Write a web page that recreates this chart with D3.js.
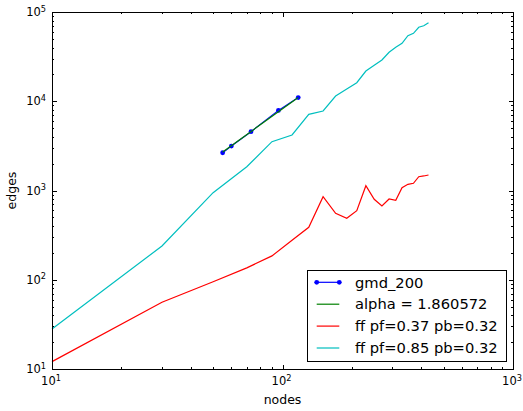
<!DOCTYPE html>
<html>
<head>
<meta charset="utf-8">
<script src="https://cdn.jsdelivr.net/npm/d3@7"></script>
<style>
  body { margin: 0; background: #fff; }
  text { font-family: "DejaVu Sans", sans-serif; fill: #000; }
</style>
</head>
<body>
<svg id="chart" width="523" height="411"></svg>
<script>
// gmd_200 measurements
const gmdNodes = [55, 60, 73, 96, 117];
const gmdEdges = [2650, 3150, 4560, 7900, 11000];
// power-law exponent of the fitted line
const fitAlpha = 1.860572;

// forest-fire runs, sampled at the same node counts
const ffNodes = [10, 30, 50, 70, 90, 110, 130, 150, 170, 190, 210, 230, 250, 270, 290, 310, 330, 350, 370, 390, 410, 430];
const ffLowEdges = [12.1, 56, 95, 136, 185, 277, 387, 853, 556, 489, 594, 1132, 797, 670, 804, 777, 1075, 1173, 1205, 1428, 1455, 1492];
const ffHighEdges = [28, 239, 945, 1848, 3523, 4188, 7140, 7780, 11450, 13700, 16140, 21800, 25350, 28980, 35360, 40220, 44580, 54260, 57700, 67420, 70220, 75860];

const xMajorTicks = [10, 100, 1000];
const yMajorTicks = [10, 100, 1000, 10000, 100000];
const legendLabels = ["gmd_200", "alpha = 1.860572", "ff pf=0.37 pb=0.32", "ff pf=0.85 pb=0.32"];
const seriesColors = ["#0000ff", "#008000", "#ff0000", "#00bfbf"];

const svg = d3.select("#chart");
const plot = { left: 52, right: 513, top: 12, bottom: 369 };

const x = d3.scaleLog().domain([10, 1000]).range([plot.left, plot.right]);
const y = d3.scaleLog().domain([10, 100000]).range([plot.bottom, plot.top]);

function minorTicks(majors) {
  const out = [];
  for (let i = 0; i < majors.length - 1; i++)
    for (let k = 2; k <= 9; k++) out.push(majors[i] * k);
  return out;
}

// fit line: intercept from the gmd data with the stated exponent
const logIntercept = d3.mean(gmdNodes.map((n, i) => Math.log10(gmdEdges[i]) - fitAlpha * Math.log10(n)));
const fitNodes = [d3.min(gmdNodes), d3.max(gmdNodes)];
const fitEdges = fitNodes.map(n => Math.pow(10, logIntercept) * Math.pow(n, fitAlpha));

const line = d3.line().x(d => x(d[0])).y(d => y(d[1]));
const zip = (a, b) => a.map((v, i) => [v, b[i]]);

const marks = svg.append("g");
marks.append("path").datum(zip(ffNodes, ffLowEdges)).attr("d", line)
  .attr("fill", "none").attr("stroke", seriesColors[2]).attr("stroke-width", 1.2);
marks.append("path").datum(zip(ffNodes, ffHighEdges)).attr("d", line)
  .attr("fill", "none").attr("stroke", seriesColors[3]).attr("stroke-width", 1.2);
marks.append("path").datum(zip(gmdNodes, gmdEdges)).attr("d", line)
  .attr("fill", "none").attr("stroke", seriesColors[0]).attr("stroke-width", 1.2);
marks.selectAll("circle.gmd").data(zip(gmdNodes, gmdEdges)).join("circle")
  .attr("class", "gmd").attr("cx", d => x(d[0])).attr("cy", d => y(d[1])).attr("r", 2.4)
  .attr("fill", seriesColors[0]);
marks.append("path").datum(zip(fitNodes, fitEdges)).attr("d", line)
  .attr("fill", "none").attr("stroke", seriesColors[1]).attr("stroke-width", 1.2);

// ticks pointing inward on all four sides
const axes = svg.append("g").attr("shape-rendering", "crispEdges");
function addTicks(axisFn, scale, values, len, transform) {
  axes.append("g").attr("transform", transform)
    .call(axisFn(scale).tickValues(values).tickSize(-len).tickFormat(""))
    .call(g => g.select(".domain").remove())
    .call(g => g.selectAll("line").attr("stroke", "#000"));
}
const xMinor = minorTicks(xMajorTicks), yMinor = minorTicks(yMajorTicks);
addTicks(d3.axisBottom, x, xMajorTicks, 4.5, `translate(0,${plot.bottom})`);
addTicks(d3.axisBottom, x, xMinor, 2, `translate(0,${plot.bottom})`);
addTicks(d3.axisTop, x, xMajorTicks, 4.5, `translate(0,${plot.top})`);
addTicks(d3.axisTop, x, xMinor, 2, `translate(0,${plot.top})`);
addTicks(d3.axisLeft, y, yMajorTicks, 4.5, `translate(${plot.left},0)`);
addTicks(d3.axisLeft, y, yMinor, 2, `translate(${plot.left},0)`);
addTicks(d3.axisRight, y, yMajorTicks, 4.5, `translate(${plot.right},0)`);
addTicks(d3.axisRight, y, yMinor, 2, `translate(${plot.right},0)`);

axes.append("rect")
  .attr("x", plot.left).attr("y", plot.top)
  .attr("width", plot.right - plot.left).attr("height", plot.bottom - plot.top)
  .attr("fill", "none").attr("stroke", "#000").attr("stroke-width", 1);

// power-of-ten tick labels
function powerLabel(sel, v) {
  const exp = Math.round(Math.log10(v));
  sel.append("tspan").text("10");
  sel.append("tspan").attr("dy", -4.5).attr("font-size", "8.2px").text(exp);
}
svg.append("g").selectAll("text").data(xMajorTicks).join("text")
  .attr("x", d => x(d) - 1).attr("y", 385).attr("text-anchor", "middle")
  .attr("font-size", "11.5px")
  .each(function (d) { powerLabel(d3.select(this), d); });
svg.append("g").selectAll("text").data(yMajorTicks).join("text")
  .attr("x", 46).attr("y", d => y(d) + 4).attr("text-anchor", "end")
  .attr("font-size", "11.5px")
  .each(function (d) { powerLabel(d3.select(this), d); });

// axis titles
svg.append("text").attr("x", (plot.left + plot.right) / 2).attr("y", 404)
  .attr("text-anchor", "middle").attr("font-size", "12.5px").text("nodes");
svg.append("text").attr("transform", `translate(16,${(plot.top + plot.bottom) / 2}) rotate(-90)`)
  .attr("text-anchor", "middle").attr("font-size", "12.5px").text("edges");

// legend
const legend = svg.append("g");
legend.append("rect").attr("x", 307.5).attr("y", 270.5).attr("width", 199).attr("height", 91)
  .attr("fill", "#fff").attr("stroke", "#000").attr("stroke-width", 1).attr("shape-rendering", "crispEdges");
const rowY = i => 282.3 + i * 21.9;
legendLabels.forEach((label, i) => {
  const g = legend.append("g");
  g.append("line").attr("x1", 316.7).attr("x2", 339.3).attr("y1", rowY(i)).attr("y2", rowY(i))
    .attr("stroke", seriesColors[i]).attr("stroke-width", 1.2);
  if (i === 0) {
    [316.7, 339.3].forEach(cx => g.append("circle").attr("cx", cx).attr("cy", rowY(i)).attr("r", 2.4).attr("fill", seriesColors[0]));
  }
  g.append("text").attr("x", 355).attr("y", rowY(i)).attr("dy", "0.36em")
    .attr("font-size", "14.7px").text(label);
});
</script>
</body>
</html>
